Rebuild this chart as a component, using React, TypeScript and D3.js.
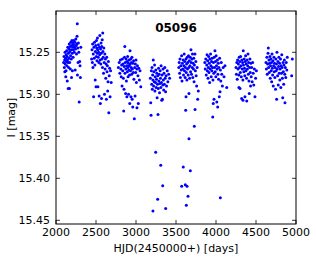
import React from "react";
import * as d3 from "d3";

type P = [number, number];

const title = "05096";
const xLabel = "HJD(2450000+) [days]";
const yLabel = "I [mag]";
const xTicks = [2000, 2500, 3000, 3500, 4000, 4500, 5000];
const yTicks = [15.25, 15.3, 15.35, 15.4, 15.45];
const xDomain: [number, number] = [2000, 5000];
const yDomain: [number, number] = [15.2008, 15.4544];

const season1: P[] = [[2095,15.262],[2100,15.255],[2104,15.268],[2108,15.259],[2110,15.273],[2113,15.250],[2116,15.264],[2120,15.257],[2122,15.279],[2125,15.272],[2127,15.253],[2130,15.261],[2133,15.248],[2136,15.266],[2139,15.255],[2141,15.284],[2144,15.259],[2147,15.244],[2150,15.262],[2152,15.293],[2155,15.251],[2158,15.268],[2160,15.246],[2163,15.257],[2166,15.240],[2168,15.293],[2170,15.262],[2173,15.249],[2176,15.243],[2179,15.270],[2182,15.254],[2185,15.238],[2188,15.247],[2191,15.258],[2194,15.280],[2196,15.242],[2199,15.236],[2202,15.251],[2205,15.272],[2208,15.244],[2211,15.239],[2214,15.256],[2217,15.247],[2220,15.241],[2224,15.236],[2228,15.250],[2232,15.244],[2236,15.238],[2240,15.271],[2244,15.246],[2248,15.234],[2252,15.242],[2256,15.252],[2260,15.240],[2263,15.231],[2266,15.216],[2268,15.277],[2272,15.245],[2276,15.262],[2280,15.239],[2285,15.250],[2290,15.309],[2296,15.261],[2300,15.266],[2305,15.280],[2310,15.244]];

const season2: P[] = [[2445,15.258],[2450,15.247],[2455,15.262],[2458,15.240],[2462,15.268],[2466,15.252],[2470,15.303],[2474,15.244],[2478,15.257],[2482,15.238],[2486,15.265],[2490,15.283],[2492,15.249],[2496,15.242],[2500,15.291],[2503,15.255],[2506,15.236],[2509,15.245],[2512,15.260],[2515,15.251],[2518,15.233],[2521,15.247],[2524,15.291],[2527,15.256],[2530,15.241],[2533,15.250],[2536,15.262],[2539,15.302],[2542,15.244],[2545,15.253],[2548,15.230],[2551,15.259],[2554,15.311],[2557,15.246],[2560,15.264],[2563,15.239],[2566,15.251],[2569,15.305],[2572,15.243],[2575,15.258],[2578,15.235],[2581,15.268],[2584,15.227],[2587,15.249],[2590,15.256],[2594,15.275],[2598,15.245],[2602,15.262],[2606,15.300],[2610,15.252],[2614,15.270],[2618,15.258],[2622,15.281],[2626,15.264],[2630,15.306],[2634,15.256],[2638,15.273],[2642,15.266],[2646,15.296],[2650,15.285],[2655,15.261],[2660,15.322],[2665,15.278],[2670,15.269],[2676,15.303],[2682,15.272],[2690,15.286]];

const season3: P[] = [[2780,15.268],[2790,15.262],[2798,15.275],[2805,15.259],[2810,15.270],[2815,15.279],[2820,15.265],[2826,15.290],[2830,15.258],[2834,15.272],[2838,15.264],[2842,15.281],[2846,15.320],[2850,15.294],[2852,15.267],[2856,15.256],[2860,15.243],[2862,15.275],[2866,15.262],[2870,15.299],[2872,15.270],[2876,15.258],[2880,15.284],[2883,15.266],[2886,15.303],[2889,15.261],[2892,15.273],[2895,15.255],[2898,15.268],[2901,15.279],[2904,15.263],[2907,15.300],[2910,15.271],[2913,15.259],[2916,15.266],[2919,15.277],[2922,15.311],[2925,15.248],[2928,15.264],[2931,15.272],[2934,15.258],[2937,15.303],[2940,15.268],[2943,15.262],[2946,15.276],[2949,15.256],[2952,15.306],[2955,15.270],[2959,15.315],[2962,15.263],[2966,15.274],[2970,15.260],[2974,15.282],[2979,15.329],[2984,15.268],[2988,15.302],[2992,15.264],[2996,15.274],[3000,15.259],[3005,15.286],[3010,15.270],[3012,15.316],[3018,15.266],[3024,15.278],[3029,15.311],[3035,15.269],[3042,15.283],[3050,15.272],[3060,15.291]];

const season4: P[] = [[3180,15.281],[3184,15.310],[3188,15.325],[3192,15.272],[3196,15.288],[3200,15.268],[3204,15.294],[3208,15.277],[3212,15.283],[3216,15.259],[3220,15.290],[3224,15.273],[3228,15.285],[3232,15.265],[3236,15.296],[3240,15.279],[3244,15.286],[3248,15.271],[3252,15.292],[3256,15.282],[3260,15.275],[3264,15.304],[3268,15.288],[3272,15.278],[3275,15.324],[3278,15.293],[3282,15.269],[3286,15.284],[3290,15.276],[3294,15.298],[3298,15.287],[3302,15.272],[3306,15.281],[3310,15.292],[3314,15.266],[3318,15.286],[3322,15.307],[3326,15.277],[3330,15.306],[3334,15.289],[3338,15.270],[3342,15.283],[3346,15.295],[3350,15.275],[3355,15.288],[3360,15.268],[3365,15.281],[3370,15.297],[3376,15.278],[3382,15.290],[3390,15.272],[3398,15.285],[3408,15.276],[3420,15.281]];

const season5: P[] = [[3535,15.268],[3540,15.262],[3545,15.275],[3550,15.258],[3555,15.280],[3560,15.266],[3565,15.271],[3570,15.254],[3575,15.284],[3580,15.263],[3585,15.270],[3590,15.259],[3594,15.277],[3598,15.266],[3602,15.252],[3606,15.272],[3610,15.261],[3614,15.280],[3618,15.268],[3621,15.319],[3624,15.258],[3625,15.303],[3628,15.274],[3632,15.264],[3636,15.283],[3640,15.256],[3644,15.270],[3648,15.262],[3652,15.277],[3656,15.254],[3660,15.268],[3662,15.299],[3666,15.260],[3670,15.281],[3674,15.266],[3678,15.256],[3682,15.273],[3687,15.247],[3690,15.262],[3694,15.276],[3698,15.258],[3702,15.268],[3706,15.252],[3710,15.280],[3714,15.263],[3718,15.270],[3722,15.257],[3726,15.285],[3730,15.265],[3737,15.252],[3738,15.318],[3742,15.272],[3748,15.261],[3752,15.278],[3758,15.290],[3764,15.268],[3771,15.306],[3779,15.296]];

const season6: P[] = [[3860,15.262],[3866,15.270],[3872,15.258],[3878,15.277],[3884,15.265],[3888,15.253],[3892,15.272],[3896,15.260],[3900,15.281],[3904,15.268],[3908,15.255],[3912,15.274],[3916,15.263],[3920,15.286],[3924,15.258],[3928,15.270],[3932,15.252],[3936,15.266],[3940,15.279],[3944,15.261],[3948,15.272],[3952,15.257],[3956,15.268],[3959,15.327],[3962,15.283],[3966,15.311],[3968,15.262],[3972,15.275],[3975,15.306],[3978,15.256],[3982,15.268],[3987,15.248],[3990,15.273],[3994,15.261],[3998,15.279],[4002,15.254],[4006,15.266],[4010,15.309],[4014,15.270],[4018,15.259],[4021,15.315],[4024,15.276],[4028,15.263],[4032,15.282],[4036,15.268],[4041,15.303],[4045,15.257],[4050,15.297],[4055,15.271],[4060,15.284],[4066,15.262],[4072,15.276],[4080,15.290],[4090,15.268],[4100,15.279],[4112,15.266],[4134,15.292]];

const season7: P[] = [[4250,15.268],[4255,15.276],[4260,15.262],[4265,15.282],[4270,15.259],[4275,15.270],[4280,15.264],[4285,15.277],[4287,15.292],[4290,15.256],[4294,15.268],[4298,15.261],[4300,15.293],[4304,15.274],[4308,15.255],[4312,15.266],[4316,15.279],[4321,15.305],[4324,15.259],[4328,15.270],[4332,15.262],[4336,15.283],[4337,15.307],[4341,15.248],[4344,15.265],[4348,15.273],[4352,15.258],[4356,15.269],[4360,15.278],[4362,15.303],[4366,15.261],[4370,15.254],[4374,15.272],[4378,15.264],[4382,15.281],[4384,15.308],[4388,15.259],[4392,15.270],[4396,15.266],[4400,15.252],[4404,15.276],[4408,15.262],[4412,15.284],[4416,15.299],[4420,15.268],[4424,15.258],[4428,15.274],[4432,15.290],[4436,15.263],[4440,15.279],[4446,15.268],[4452,15.285],[4458,15.262],[4465,15.275],[4472,15.289],[4480,15.270],[4487,15.303],[4495,15.281],[4505,15.272]];

const season8: P[] = [[4625,15.262],[4630,15.270],[4636,15.256],[4640,15.276],[4645,15.264],[4650,15.251],[4654,15.245],[4658,15.268],[4662,15.259],[4666,15.274],[4670,15.263],[4674,15.255],[4678,15.281],[4682,15.266],[4686,15.258],[4690,15.272],[4694,15.262],[4696,15.285],[4700,15.252],[4704,15.269],[4708,15.277],[4712,15.260],[4716,15.290],[4720,15.266],[4724,15.256],[4728,15.273],[4732,15.263],[4736,15.280],[4740,15.268],[4744,15.294],[4748,15.258],[4752,15.272],[4756,15.264],[4758,15.306],[4762,15.250],[4766,15.270],[4770,15.278],[4774,15.261],[4778,15.289],[4782,15.267],[4786,15.256],[4790,15.275],[4794,15.263],[4798,15.283],[4802,15.270],[4806,15.258],[4810,15.292],[4814,15.266],[4818,15.275],[4822,15.253],[4826,15.268],[4830,15.281],[4834,15.304],[4838,15.262],[4842,15.273],[4846,15.288],[4850,15.265],[4855,15.259],[4860,15.276],[4862,15.310],[4866,15.268],[4872,15.280],[4878,15.262],[4885,15.271],[4891,15.256],[4946,15.278],[4954,15.258]];

const faintOutliers: P[] = [[3212,15.439],[3246,15.369],[3271,15.425],[3309,15.3845],[3334,15.409],[3371,15.436],[3571,15.4095],[3591,15.3866],[3616,15.4076],[3629,15.432],[3638,15.4095],[3650,15.4214],[3662,15.353],[3679,15.391],[3729,15.338],[4054,15.423]];

const allPoints: P[] = [
  ...season1, ...season2, ...season3, ...season4,
  ...season5, ...season6, ...season7, ...season8, ...faintOutliers,
];

const W = 316;
const H = 259;
const M = { left: 56, right: 296, top: 11, bottom: 224 };
const FONT = "'DejaVu Sans', sans-serif";

export default function App() {
  const x = d3.scaleLinear().domain(xDomain).range([M.left, M.right]);
  const y = d3.scaleLinear().domain(yDomain).range([M.top, M.bottom]);
  const tl = 4;
  return (
    <svg width={W} height={H} style={{ position: "absolute", left: 0, top: 0, background: "#fff" }}>
      <rect x={0} y={0} width={W} height={H} fill="#fff" />
      <g>
        {allPoints.map((p, i) => (
          <circle key={i} cx={x(p[0])} cy={y(p[1])} r={1.5} fill="#0000ff" />
        ))}
      </g>
      <rect x={M.left} y={M.top} width={M.right - M.left} height={M.bottom - M.top} fill="none" stroke="#000" strokeWidth={1} />
      {xTicks.map((t) => (
        <g key={"x" + t}>
          <line x1={x(t)} x2={x(t)} y1={M.bottom} y2={M.bottom - tl} stroke="#000" strokeWidth={0.8} />
          <line x1={x(t)} x2={x(t)} y1={M.top} y2={M.top + tl} stroke="#000" strokeWidth={0.8} />
          <text x={x(t)} y={236} textAnchor="middle" fontFamily={FONT} fontSize={11} fill="#000">{t}</text>
        </g>
      ))}
      {yTicks.map((t) => (
        <g key={"y" + t}>
          <line x1={M.left} x2={M.left + tl} y1={y(t)} y2={y(t)} stroke="#000" strokeWidth={0.8} />
          <line x1={M.right} x2={M.right - tl} y1={y(t)} y2={y(t)} stroke="#000" strokeWidth={0.8} />
          <text x={50} y={y(t)} dy="0.36em" textAnchor="end" fontFamily={FONT} fontSize={11} fill="#000">{t.toFixed(2)}</text>
        </g>
      ))}
      <text x={(M.left + M.right) / 2} y={32} textAnchor="middle" fontFamily={FONT} fontSize={12} fontWeight="bold" fill="#000">{title}</text>
      <text x={(M.left + M.right) / 2} y={251.5} textAnchor="middle" fontFamily={FONT} fontSize={11} fill="#000">{xLabel}</text>
      <text transform={`translate(15,${(M.top + M.bottom) / 2}) rotate(-90)`} textAnchor="middle" fontFamily={FONT} fontSize={11} fill="#000">{yLabel}</text>
    </svg>
  );
}
